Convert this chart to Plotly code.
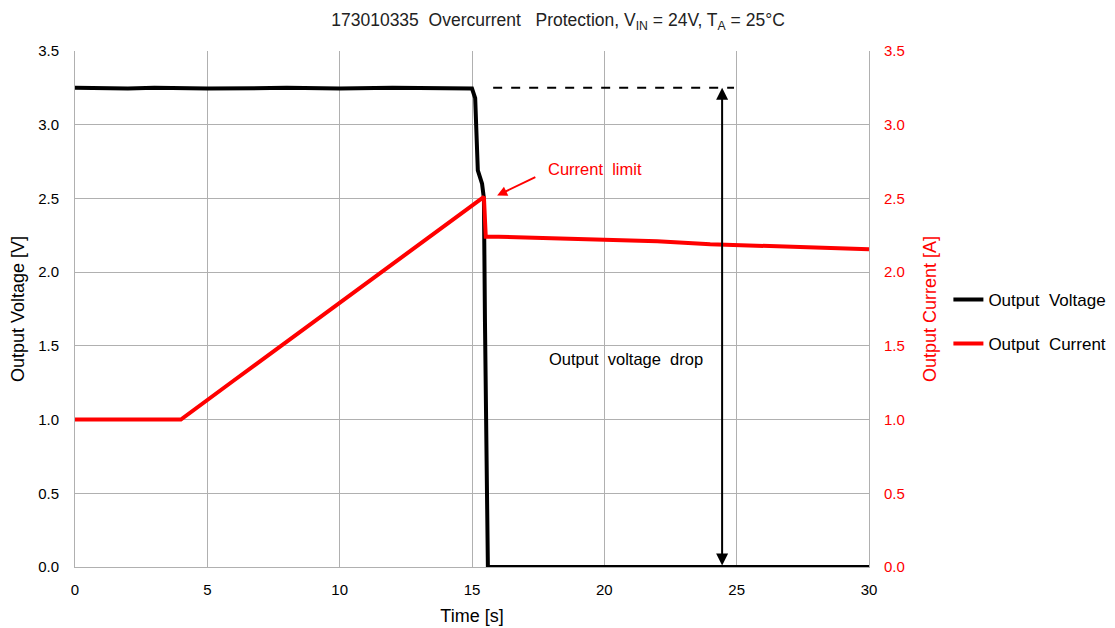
import plotly.graph_objects as go

# datos
t_volt = [0, 2, 3, 5, 8, 10, 12, 14, 15.0, 15.12, 15.22, 15.38, 15.45, 15.49, 15.53, 15.56, 15.6, 17, 20, 23, 26, 30]
v_out = [3.25, 3.245, 3.25, 3.245, 3.25, 3.245, 3.25, 3.25, 3.245, 3.18, 2.69, 2.6, 2.5, 1.66, 1.0, 0.7, 0.0, 0.0, 0.0, 0.0, 0.0, 0.0]

t_curr = [0, 2, 4.0, 6, 8, 10, 12, 14, 15.45, 15.52, 16, 18, 20, 22, 24, 26, 28, 30]
i_out = [1.0, 1.0, 1.0, 1.265, 1.53, 1.79, 2.055, 2.32, 2.51, 2.24, 2.24, 2.23, 2.22, 2.21, 2.19, 2.18, 2.165, 2.155]

t_ticks = [0, 5, 10, 15, 20, 25, 30]
y_ticks = [0, 0.5, 1.0, 1.5, 2.0, 2.5, 3.0, 3.5]

fuente = "Liberation Sans, Arial, sans-serif"
sp = "&nbsp; "

fig = go.Figure()
fig.add_trace(go.Scatter(x=t_volt, y=v_out, mode='lines', name='Output' + sp + 'Voltage',
                         line=dict(color='black', width=4), legendgroup='v'))
fig.add_trace(go.Scatter(x=t_curr, y=i_out, mode='lines', name='Output' + sp + 'Current',
                         line=dict(color='red', width=4), yaxis='y2', legendgroup='i'))

# linea punteada de referencia y flecha de caida
fig.add_shape(type='line', x0=15.8, x1=24.9, y0=3.25, y1=3.25,
              line=dict(color='black', width=2, dash='dash'))
fig.add_annotation(x=24.45, y=3.25, ax=24.45, ay=0.0, xref='x', yref='y', axref='x', ayref='y',
                   showarrow=True, arrowhead=2, startarrowhead=2, arrowside='end+start',
                   arrowsize=1.2, startarrowsize=1.2, arrowwidth=2, arrowcolor='black', text='')
fig.add_annotation(x=20.8, y=1.41, xref='x', yref='y', text='Output' + sp + 'voltage' + sp + 'drop',
                   showarrow=False, font=dict(size=16.5, color='black', family=fuente))
fig.add_annotation(x=15.95, y=2.52, ax=17.45, ay=2.65, xref='x', yref='y', axref='x', ayref='y',
                   showarrow=True, arrowhead=2, arrowsize=1, arrowwidth=2, arrowcolor='red', text='')
fig.add_annotation(x=19.65, y=2.7, xref='x', yref='y', text='Current' + sp + 'limit',
                   showarrow=False, font=dict(size=16.5, color='red', family=fuente))

# la pagina html tiene 8px de margen en el body, se compensa aqui
fig.update_layout(
    title=dict(text='173010335' + sp + 'Overcurrent' + sp + '&nbsp;Protection, V<sub>IN</sub> = 24V, T<sub>A</sub> = 25°C',
               x=550 / 1115, xanchor='center', yref='container', y=1 - 12 / 628,
               yanchor='middle', automargin=False, font=dict(size=17.5, color='#222', family=fuente)),
    width=1115, height=628,
    margin=dict(l=67, r=254, t=43, b=69, autoexpand=False),
    plot_bgcolor='white', paper_bgcolor='white',
    font=dict(family=fuente, size=15, color='black'),
    xaxis=dict(title=dict(text='Time [s]', standoff=12), range=[0, 30], tickvals=t_ticks,
               showgrid=True, gridcolor='#b0b0b0', gridwidth=1, zeroline=False, automargin=False,
               showline=True, linecolor='#b0b0b0', mirror=False, ticks='', ticklabelstandoff=9),
    yaxis=dict(title=dict(text='Output Voltage [V]', standoff=8), range=[0, 3.5], tickvals=y_ticks,
               tickformat='.1f', showgrid=True, gridcolor='#b0b0b0', gridwidth=1, zeroline=False,
               showline=True, linecolor='#b0b0b0', automargin=False, ticklabelstandoff=12),
    yaxis2=dict(title=dict(text='Output Current [A]', font=dict(color='red'), standoff=19),
                range=[0, 3.5], tickvals=y_ticks, tickformat='.1f', overlaying='y', side='right',
                tickfont=dict(color='red'), showgrid=False, zeroline=False, automargin=False,
                showline=True, linecolor='#b0b0b0', ticklabelstandoff=11),
    legend=dict(x=1.10, y=0.475, xanchor='left', yanchor='middle', tracegroupgap=19,
                font=dict(size=17), itemwidth=30),
)

fig.write_html("out.html")
